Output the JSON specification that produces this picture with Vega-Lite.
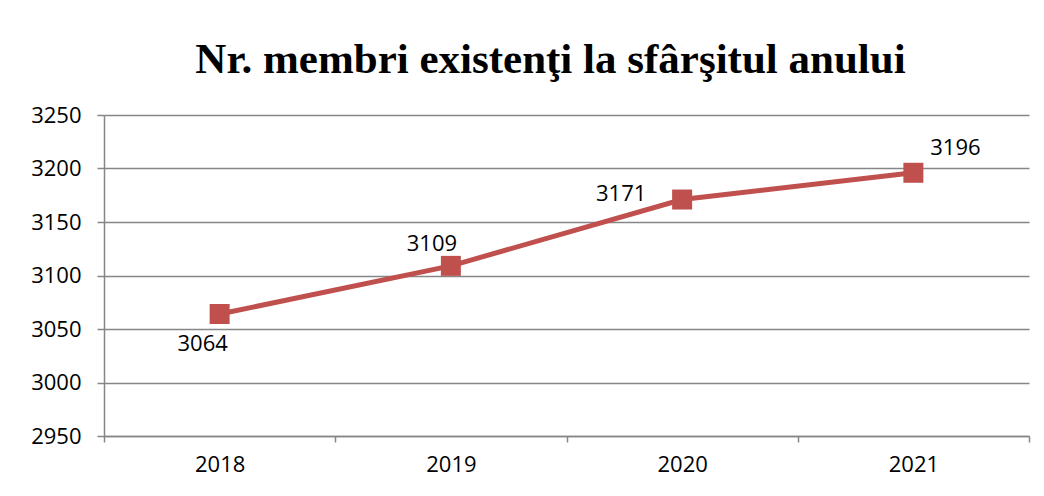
{
  "$schema": "https://vega.github.io/schema/vega-lite/v6.json",
  "width": 925,
  "height": 321,
  "autosize": {"type": "none"},
  "padding": {"left": 104, "top": 115, "right": 15, "bottom": 60},
  "background": "white",
  "title": {
    "text": "Nr. membri existenţi la sfârşitul anului",
    "font": "Liberation Serif",
    "fontSize": 43,
    "fontWeight": "bold",
    "color": "black",
    "anchor": "middle",
    "baseline": "alphabetic",
    "dx": -16,
    "dy": 40,
    "offset": 28
  },
  "data": {
    "values": [
      {"year": "2018", "members": 3064},
      {"year": "2019", "members": 3109},
      {"year": "2020", "members": 3171},
      {"year": "2021", "members": 3196}
    ]
  },
  "encoding": {
    "x": {
      "field": "year",
      "type": "ordinal",
      "scale": {"paddingInner": 0, "paddingOuter": 0},
      "axis": {
        "title": null,
        "labelAngle": 0,
        "tickBand": "extent",
        "grid": false,
        "domainColor": "#868686",
        "domainWidth": 1.5,
        "tickColor": "#868686",
        "tickWidth": 1.5,
        "tickSize": 6,
        "labelFont": "Open Sans",
        "labelFontSize": 22,
        "labelColor": "black",
        "labelPadding": 12
      }
    },
    "y": {
      "field": "members",
      "type": "quantitative",
      "scale": {"domain": [2950, 3250], "nice": false, "zero": false},
      "axis": {
        "title": null,
        "values": [2950, 3000, 3050, 3100, 3150, 3200, 3250],
        "format": "d",
        "grid": true,
        "gridColor": "#868686",
        "gridWidth": 1.5,
        "domainColor": "#868686",
        "domainWidth": 1.5,
        "tickColor": "#868686",
        "tickWidth": 1.5,
        "tickSize": 7,
        "labelFont": "Open Sans",
        "labelFontSize": 22,
        "labelColor": "black",
        "labelPadding": 16
      }
    }
  },
  "layer": [
    {
      "mark": {"type": "line", "color": "#C0504D", "strokeWidth": 5}
    },
    {
      "mark": {"type": "point", "shape": "square", "size": 400, "filled": true, "color": "#C0504D", "opacity": 1}
    },
    {
      "transform": [{"filter": "datum.year == '2018'"}],
      "mark": {"type": "text", "font": "Open Sans", "fontSize": 22, "color": "black", "align": "center", "baseline": "middle", "dx": -17, "dy": 30},
      "encoding": {"text": {"field": "members", "type": "quantitative"}}
    },
    {
      "transform": [{"filter": "datum.year == '2019'"}],
      "mark": {"type": "text", "font": "Open Sans", "fontSize": 22, "color": "black", "align": "center", "baseline": "middle", "dx": -19, "dy": -22},
      "encoding": {"text": {"field": "members", "type": "quantitative"}}
    },
    {
      "transform": [{"filter": "datum.year == '2020'"}],
      "mark": {"type": "text", "font": "Open Sans", "fontSize": 22, "color": "black", "align": "center", "baseline": "middle", "dx": -61, "dy": -6},
      "encoding": {"text": {"field": "members", "type": "quantitative"}}
    },
    {
      "transform": [{"filter": "datum.year == '2021'"}],
      "mark": {"type": "text", "font": "Open Sans", "fontSize": 22, "color": "black", "align": "center", "baseline": "middle", "dx": 42, "dy": -25},
      "encoding": {"text": {"field": "members", "type": "quantitative"}}
    }
  ],
  "config": {"view": {"stroke": null}}
}
